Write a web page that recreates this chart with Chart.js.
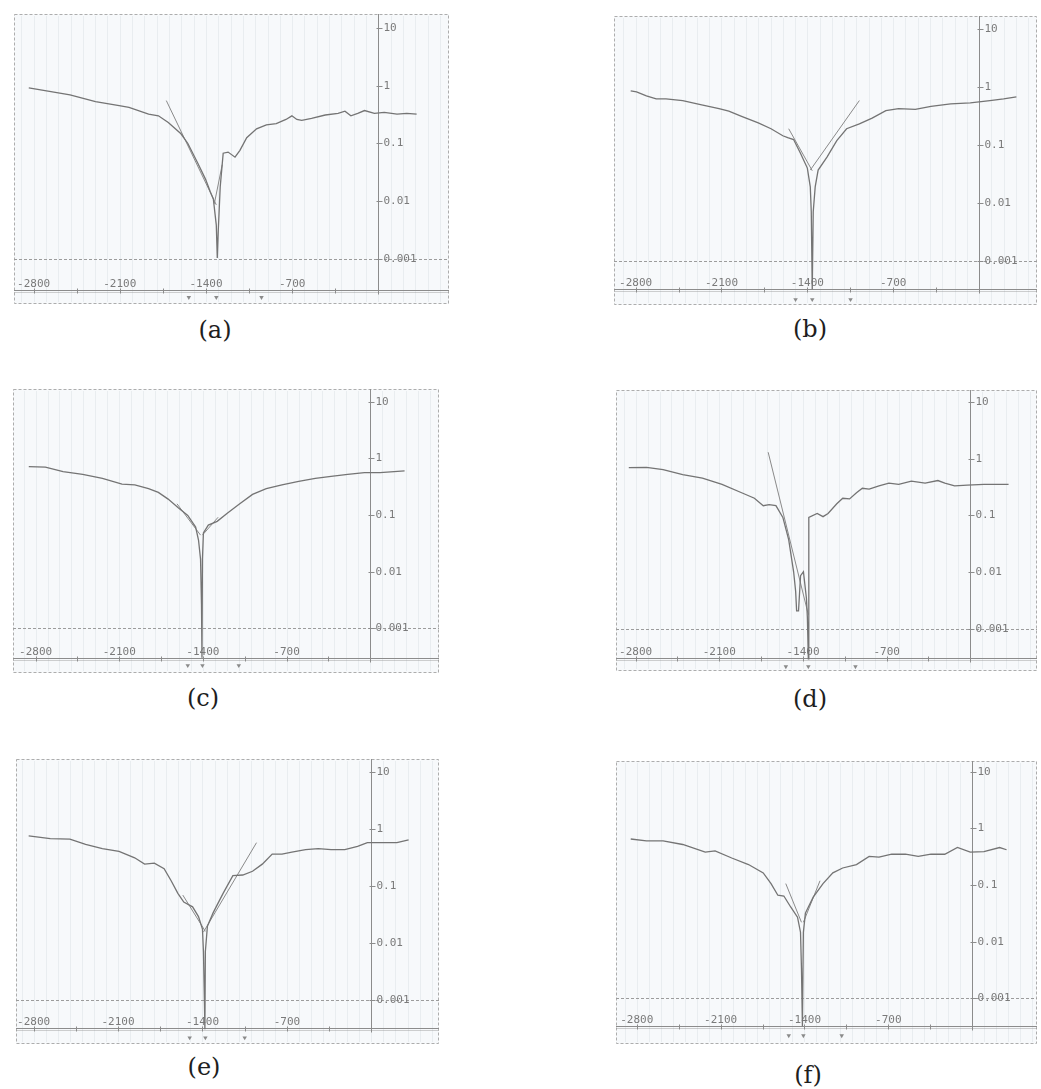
<!DOCTYPE html>
<html>
<head>
<meta charset="utf-8">
<script src="https://cdn.jsdelivr.net/npm/chart.js@4.4.1/dist/chart.umd.min.js"></script>
<style>
html,body{margin:0;padding:0;background:#fff;}
body{width:1041px;height:1089px;position:relative;overflow:hidden;}
canvas{position:absolute;}
.cap{position:absolute;font-family:"DejaVu Serif",serif;font-size:24px;line-height:1;color:#1e1e1e;transform:translateX(-50%);white-space:nowrap;}
</style>
</head>
<body>
<script>
// ---------- tick labels ----------
const xTickValues = [-2800, -2100, -1400, -700];
const xTickLabels = ["-2800", "-2100", "-1400", "-700"];
const yTickValues = [10, 1, 0.1, 0.01, 0.001];
const yTickLabels = ["10", "1", "0.1", "0.01", "0.001"];
const captions = ["(a)", "(b)", "(c)", "(d)", "(e)", "(f)"];

// ---------- panel (a) ----------
const potA = [-2839,-2695,-2504,-2297,-2105,-2025,-1866,-1786,-1706,-1603,-1547,-1467,-1403,-1364,-1340,-1316,-1308,-1300,-1284,-1260,-1220,-1164,-1124,-1069,-989,-909,-829,-750,-702,-662,-622,-542,-431,-327,-271,-223,-167,-112,-32,48,152,231,311];
const curA = [0.91,0.81,0.69,0.53,0.45,0.42,0.32,0.30,0.23,0.147,0.10,0.046,0.024,0.0145,0.011,0.0039,0.00105,0.0031,0.018,0.068,0.071,0.058,0.076,0.126,0.179,0.21,0.22,0.26,0.30,0.26,0.25,0.27,0.31,0.33,0.36,0.30,0.33,0.37,0.33,0.345,0.32,0.33,0.32];
const tafelA1Pot = [-1722, -1316], tafelA1Cur = [0.55, 0.0087];
const tafelA2Pot = [-1332, -1268], tafelA2Cur = [0.0091, 0.043];
const markA = [-1539, -1316, -949];

// ---------- panel (b) ----------
const potB = [-2840,-2792,-2712,-2632,-2552,-2416,-2280,-2120,-2040,-1936,-1800,-1696,-1600,-1560,-1512,-1456,-1400,-1376,-1368,-1360,-1352,-1336,-1312,-1240,-1160,-1080,-976,-872,-760,-656,-520,-392,-232,-72,88,200,304];
const curB = [0.85,0.82,0.70,0.62,0.62,0.58,0.50,0.42,0.38,0.31,0.24,0.19,0.144,0.134,0.124,0.072,0.040,0.019,0.0071,0.00033,0.0071,0.019,0.037,0.062,0.119,0.19,0.23,0.29,0.39,0.42,0.41,0.46,0.51,0.53,0.58,0.62,0.67];
const tafelB1Pot = [-1552, -1360], tafelB1Cur = [0.19, 0.036];
const tafelB2Pot = [-976, -1376], tafelB2Cur = [0.58, 0.037];
const markB = [-1496, -1360, -1048];

// ---------- panel (c) ----------
const potC = [-2857,-2718,-2570,-2406,-2241,-2077,-1970,-1855,-1773,-1691,-1609,-1527,-1461,-1437,-1420,-1412,-1408,-1404,-1396,-1355,-1281,-1199,-1092,-985,-870,-739,-599,-460,-328,-189,-49,82,287];
const curC = [0.71,0.70,0.58,0.52,0.44,0.35,0.34,0.29,0.25,0.19,0.135,0.098,0.061,0.036,0.0166,0.0026,0.00030,0.0166,0.048,0.066,0.077,0.106,0.157,0.23,0.29,0.34,0.39,0.44,0.48,0.52,0.56,0.56,0.60];
const tafelC1Pot = [-1617, -1420], tafelC1Cur = [0.157, 0.044];
const tafelC2Pot = [-1404, -1273], tafelC2Cur = [0.044, 0.091];
const markC = [-1527, -1404, -1100];

// ---------- panel (d) ----------
const potD = [-2857,-2709,-2570,-2406,-2241,-2077,-1913,-1806,-1732,-1683,-1626,-1568,-1519,-1478,-1461,-1453,-1437,-1420,-1396,-1371,-1363,-1355,-1351,-1281,-1232,-1190,-1117,-1067,-1010,-952,-903,-846,-764,-681,-599,-493,-378,-271,-213,-131,-25,115,320];
const curD = [0.69,0.70,0.64,0.52,0.45,0.35,0.25,0.20,0.148,0.155,0.148,0.092,0.037,0.0102,0.0046,0.0021,0.0021,0.0087,0.0102,0.0035,0.0016,0.00030,0.092,0.108,0.095,0.108,0.16,0.20,0.195,0.25,0.30,0.29,0.33,0.37,0.35,0.40,0.37,0.41,0.37,0.33,0.34,0.35,0.35];
const tafelD1Pot = [-1691, -1355], tafelD1Cur = [1.29, 0.0018];
const markD = [-1543, -1355, -961];

// ---------- panel (e) ----------
const potE = [-2841,-2662,-2499,-2369,-2230,-2092,-1962,-1880,-1799,-1718,-1661,-1604,-1555,-1482,-1433,-1400,-1392,-1384,-1380,-1376,-1359,-1311,-1229,-1148,-1066,-985,-904,-822,-741,-659,-545,-440,-334,-220,-114,-33,73,212,309];
const curE = [0.75,0.67,0.66,0.53,0.45,0.40,0.31,0.24,0.25,0.20,0.124,0.074,0.052,0.043,0.029,0.0175,0.0071,0.001,0.00031,0.0071,0.0197,0.034,0.074,0.151,0.155,0.18,0.24,0.36,0.36,0.39,0.43,0.45,0.43,0.43,0.49,0.57,0.57,0.57,0.64];
const tafelE1Pot = [-1563, -1376], tafelE1Cur = [0.069, 0.016];
const tafelE2Pot = [-952, -1392], tafelE2Cur = [0.57, 0.0155];
const markE = [-1506, -1376, -1050];

// ---------- panel (f) ----------
const potF = [-2850,-2719,-2580,-2416,-2228,-2146,-2007,-1867,-1744,-1679,-1622,-1572,-1515,-1458,-1433,-1425,-1417,-1409,-1392,-1327,-1245,-1163,-1081,-966,-860,-778,-672,-557,-450,-344,-229,-123,-16,98,229,287];
const curF = [0.65,0.60,0.60,0.52,0.38,0.40,0.30,0.23,0.164,0.106,0.066,0.064,0.041,0.027,0.0147,0.0034,0.00032,0.0147,0.032,0.061,0.106,0.164,0.20,0.23,0.32,0.31,0.35,0.35,0.32,0.35,0.35,0.46,0.38,0.39,0.46,0.42];
const tafelF1Pot = [-1556, -1425], tafelF1Cur = [0.106, 0.022];
const tafelF2Pot = [-1270, -1409], tafelF2Cur = [0.119, 0.022];
const markF = [-1531, -1409, -1089];

// level at which the arrow markers sit (below the potential axis)
const markLevel = 2.2e-4;

// ---------- layout (positions / ranges, not data) ----------
const layout = [
  {pot: potA, cur: curA, tafel: [[tafelA1Pot, tafelA1Cur], [tafelA2Pot, tafelA2Cur]], marks: markA,
   box: [10, 10, 443, 298], xr: [-2959, 574], yr: [1.69e-4, 17.2], axisAt: 3.0e-4, cap: [215, 330]},
  {pot: potB, cur: curB, tafel: [[tafelB1Pot, tafelB1Cur], [tafelB2Pot, tafelB2Cur]], marks: markB,
   box: [610, 12, 431, 297], xr: [-2976, 472], yr: [1.77e-4, 16.5], axisAt: 3.3e-4, cap: [810, 329]},
  {pot: potC, cur: curC, tafel: [[tafelC1Pot, tafelC1Cur], [tafelC2Pot, tafelC2Cur]], marks: markC,
   box: [9, 385, 434, 292], xr: [-2989, 575], yr: [1.62e-4, 16.7], axisAt: 2.94e-4, cap: [203, 698]},
  {pot: potD, cur: curD, tafel: [[tafelD1Pot, tafelD1Cur]], marks: markD,
   box: [612, 386, 429, 289], xr: [-2964, 558], yr: [1.84e-4, 16.0], axisAt: 3.07e-4, cap: [810, 699]},
  {pot: potE, cur: curE, tafel: [[tafelE1Pot, tafelE1Cur], [tafelE2Pot, tafelE2Cur]], marks: markE,
   box: [12, 755, 431, 293], xr: [-2946, 561], yr: [1.71e-4, 16.6], axisAt: 3.2e-4, cap: [204, 1067]},
  {pot: potF, cur: curF, tafel: [[tafelF1Pot, tafelF1Cur], [tafelF2Pot, tafelF2Cur]], marks: markF,
   box: [612, 757, 429, 291], xr: [-2973, 541], yr: [1.56e-4, 15.5], axisAt: 3.18e-4, cap: [808, 1075]}
];

const paperPlugin = {
  id: 'paper',
  beforeDatasetsDraw(chart, args, opts) {
    const {ctx, chartArea: a, scales: {x, y}} = chart;
    ctx.save();
    ctx.fillStyle = '#f7f9fb';
    ctx.fillRect(a.left, a.top, a.width, a.height);
    // faint graph-paper verticals
    ctx.lineWidth = 1;
    ctx.strokeStyle = 'rgba(165,176,192,0.17)';
    for (let v = Math.ceil(x.min / 100) * 100; v <= x.max; v += 100) {
      const px = Math.round(x.getPixelForValue(v)) + 0.5;
      ctx.beginPath(); ctx.moveTo(px, a.top + 2); ctx.lineTo(px, a.bottom - 2); ctx.stroke();
    }
    // dashed frame
    ctx.setLineDash([3, 2]);
    ctx.strokeStyle = '#adadad';
    ctx.strokeRect(a.left + 0.5, a.top + 0.5, a.width - 1, a.height - 1);
    // dashed 0.001 line
    const y001 = Math.round(y.getPixelForValue(0.001)) + 0.5;
    ctx.strokeStyle = '#9c9c9c';
    ctx.beginPath(); ctx.moveTo(a.left, y001); ctx.lineTo(a.right, y001); ctx.stroke();
    ctx.setLineDash([]);
    // potential axis line
    const yAx = Math.round(y.getPixelForValue(opts.axisAt)) + 0.5;
    ctx.strokeStyle = '#8c8c8c';
    ctx.beginPath(); ctx.moveTo(a.left, yAx); ctx.lineTo(a.right, yAx); ctx.stroke();
    ctx.strokeStyle = 'rgba(140,140,140,0.4)';
    ctx.beginPath(); ctx.moveTo(a.left, yAx + 2); ctx.lineTo(a.right, yAx + 2); ctx.stroke();
    // current axis (at 0 mV)
    const x0 = Math.round(x.getPixelForValue(0)) + 0.5;
    ctx.strokeStyle = '#8c8c8c';
    ctx.beginPath(); ctx.moveTo(x0, a.top); ctx.lineTo(x0, yAx + 4); ctx.stroke();
    // x minor ticks
    for (let v = -2800; v < 0; v += 350) {
      const px = Math.round(x.getPixelForValue(v)) + 0.5;
      ctx.beginPath(); ctx.moveTo(px, yAx - 2); ctx.lineTo(px, yAx + 3); ctx.stroke();
    }
    // labels
    ctx.fillStyle = '#7a7a7a';
    ctx.font = '11px "DejaVu Sans Mono", monospace';
    ctx.textAlign = 'center';
    ctx.textBaseline = 'bottom';
    xTickValues.forEach((v, i) => {
      ctx.fillText(xTickLabels[i], x.getPixelForValue(v), yAx - 1);
    });
    ctx.textAlign = 'left';
    ctx.textBaseline = 'middle';
    yTickValues.forEach((v, i) => {
      const py = Math.round(y.getPixelForValue(v)) + 0.5;
      ctx.beginPath(); ctx.moveTo(x0 - 2, py); ctx.lineTo(x0 + 4, py); ctx.stroke();
      ctx.fillText(yTickLabels[i], x0 + 5, py);
    });
    ctx.restore();
  }
};

layout.forEach((p, idx) => {
  const cv = document.createElement('canvas');
  cv.width = p.box[2]; cv.height = p.box[3];
  cv.style.left = p.box[0] + 'px'; cv.style.top = p.box[1] + 'px';
  cv.style.width = p.box[2] + 'px'; cv.style.height = p.box[3] + 'px';
  document.body.appendChild(cv);

  const datasets = [{
    data: p.pot.map((v, i) => ({x: v, y: p.cur[i]})),
    borderColor: '#747474', borderWidth: 1.3, pointRadius: 0, tension: 0, fill: false
  }];
  p.tafel.forEach(t => datasets.push({
    data: t[0].map((v, i) => ({x: v, y: t[1][i]})),
    borderColor: '#8a8a8a', borderWidth: 1, pointRadius: 0, tension: 0, fill: false
  }));
  datasets.push({
    data: p.marks.map(v => ({x: v, y: markLevel})),
    showLine: false, pointStyle: 'triangle', rotation: 180, pointRadius: 2.6,
    pointBackgroundColor: '#8a8a8a', pointBorderColor: '#8a8a8a', borderWidth: 0
  });

  new Chart(cv, {
    type: 'line',
    data: {datasets},
    options: {
      responsive: false, animation: false, devicePixelRatio: 1,
      layout: {padding: 0},
      plugins: {legend: {display: false}, tooltip: {enabled: false}, paper: {axisAt: p.axisAt}},
      scales: {
        x: {type: 'linear', min: p.xr[0], max: p.xr[1], display: false},
        y: {type: 'logarithmic', min: p.yr[0], max: p.yr[1], display: false}
      }
    },
    plugins: [paperPlugin]
  });

  const cap = document.createElement('div');
  cap.className = 'cap';
  cap.textContent = captions[idx];
  cap.style.left = p.cap[0] + 'px';
  cap.style.top = (p.cap[1] - 12) + 'px';
  document.body.appendChild(cap);
});
</script>
</body>
</html>
